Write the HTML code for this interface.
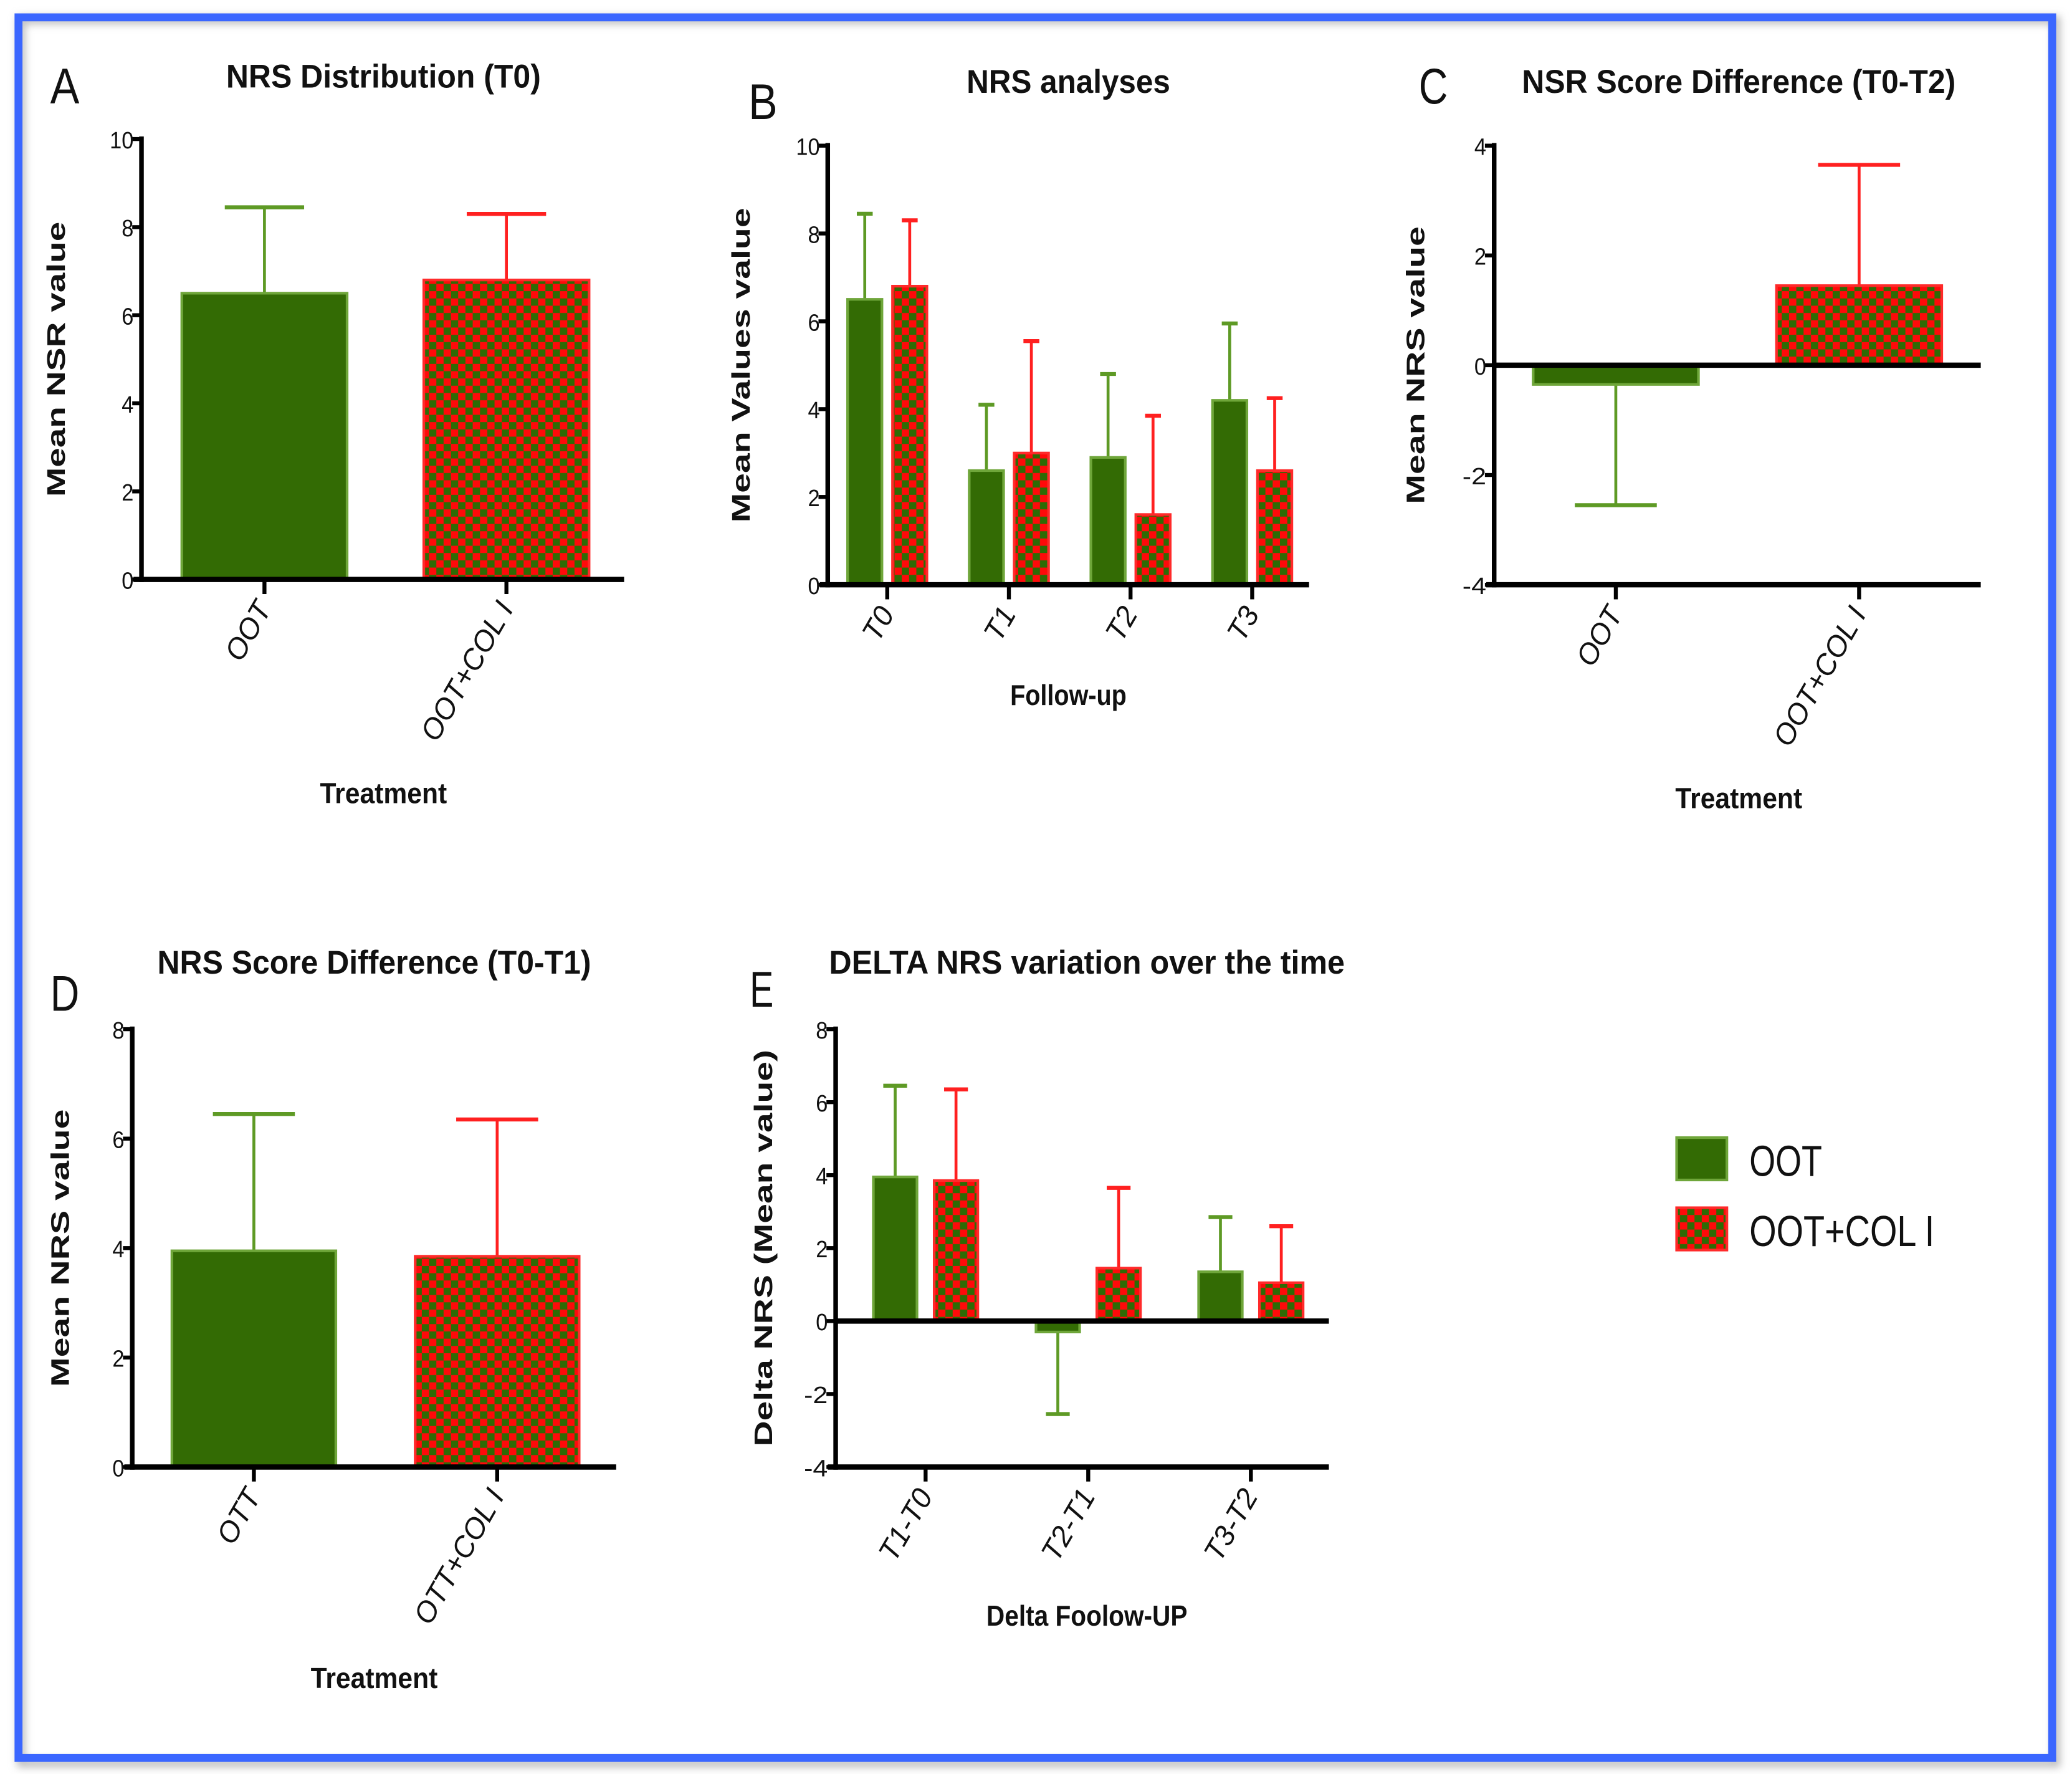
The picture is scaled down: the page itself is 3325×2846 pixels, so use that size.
<!DOCTYPE html>
<html><head><meta charset="utf-8"><style>
html,body{margin:0;padding:0;background:#fff}
svg{display:block}
text{font-family:"Liberation Sans",sans-serif;fill:#111}
.ttl{font-weight:bold;font-size:25px}
.ylab{font-weight:bold;font-size:19px}
.tick{font-size:18px}
.cat{font-size:22px;font-style:italic}
.xlab{font-weight:bold;font-size:22px}
.pl{font-size:38px}
</style></head><body>
<svg id="chart" width="3325" height="2846" viewBox="0 0 1567 1341" xmlns="http://www.w3.org/2000/svg">
<defs>
<pattern id="chk" patternUnits="userSpaceOnUse" width="11" height="11">
<rect width="11" height="11" fill="#ff0a0a"/><rect width="5.5" height="5.5" fill="#2e6b05"/><rect x="5.5" y="5.5" width="5.5" height="5.5" fill="#2e6b05"/>
</pattern>
<filter id="sh"><feGaussianBlur stdDeviation="3"/></filter>
</defs>
<rect x="16" y="15" width="1539" height="1318" fill="none" stroke="#bbb" stroke-width="6" filter="url(#sh)"/>
<rect x="14" y="13" width="1538" height="1316" fill="none" stroke="#3a66ff" stroke-width="6"/>
<g id="root"></g>
</svg>
<script>
// Panel A
const catsA = ["OOT", "OOT+COL I"];
const ootA = [6.5];
const colA = [6.8];
const ootErrA = [8.45];
const colErrA = [8.3];
const ticksA = [0, 2, 4, 6, 8, 10];
// Panel B
const catsB = ["T0", "T1", "T2", "T3"];
const ootB = [6.5, 2.6, 2.9, 4.2];
const colB = [6.8, 3.0, 1.6, 2.6];
const ootErrB = [8.45, 4.1, 4.8, 5.95];
const colErrB = [8.3, 5.55, 3.85, 4.25];
const ticksB = [0, 2, 4, 6, 8, 10];
// Panel C
const catsC = ["OOT", "OOT+COL I"];
const ootC = [-0.35];
const colC = [1.45];
const ootErrC = [-2.55];
const colErrC = [3.65];
const ticksC = [-4, -2, 0, 2, 4];
// Panel D
const catsD = ["OTT", "OTT+COL I"];
const ootD = [3.95];
const colD = [3.85];
const ootErrD = [6.45];
const colErrD = [6.35];
const ticksD = [0, 2, 4, 6, 8];
// Panel E
const catsE = ["T1-T0", "T2-T1", "T3-T2"];
const ootE = [3.95, -0.3, 1.35];
const colE = [3.85, 1.45, 1.05];
const ootErrE = [6.45, -2.55, 2.85];
const colErrE = [6.35, 3.65, 2.6];
const ticksE = [-4, -2, 0, 2, 4, 6, 8];

const NS = "http://www.w3.org/2000/svg";
const root = document.getElementById("root");
function mk(tag, attrs, parent, txt) {
  const e = document.createElementNS(NS, tag);
  for (const k in attrs) e.setAttribute(k, attrs[k]);
  if (txt !== undefined) e.textContent = txt;
  (parent || root).appendChild(e);
  return e;
}

function panel(o) {
  const g = mk("g", {});
  
  
  const ymin = o.ticks[0], ymax = o.ticks[o.ticks.length - 1];
  const Y = v => o.y0 + (ymax - v) / (ymax - ymin) * (o.y1 - o.y0);
  const t = mk("text", {x: o.tx, y: o.ty, "text-anchor": "middle", class: "ttl", textLength: o.tlen, lengthAdjust: "spacingAndGlyphs"}, g, o.title);
  
  
  const l = mk("text", {x: o.lx, y: o.ly, class: "pl", textLength: o.llen || 22, lengthAdjust: "spacingAndGlyphs"}, g, o.letter);
  
  
  const yl = mk("text", {x: 0, y: 0, class: "ylab", "text-anchor": "middle", transform: `translate(${o.ylx},${(o.y0 + o.y1) / 2}) rotate(-90)`, textLength: o.yllen, lengthAdjust: "spacingAndGlyphs"}, g, o.ylabel);
  
  
  const n = o.cats.length;
  for (let i = 0; i < n; i++) {
    const cx = o.cx0 + i * o.step;
    const series = o.grouped
      ? [[o.oot[i], o.ootErr[i], cx - o.off, "oot"], [o.col[i], o.colErr[i], cx + o.off, "col"]]
      : [[i === 0 ? o.oot[0] : o.col[0], i === 0 ? o.ootErr[0] : o.colErr[0], cx, i === 0 ? "oot" : "col"]];
    for (const [v, e, bx, s] of series) {
      const isG = s === "oot";
      const c = isG ? "#5e9a25" : "#ff2020";
      const er = mk("line", {x1: bx, x2: bx, y1: Y(v), y2: Y(e), stroke: c, "stroke-width": 2.2}, g);
      
      
      const cap = mk("line", {x1: bx - o.cap, x2: bx + o.cap, y1: Y(e), y2: Y(e), stroke: c, "stroke-width": 3}, g);
      
      
      const top = Math.min(Y(v), Y(0)), h = Math.abs(Y(v) - Y(0));
      const b = mk("rect", {x: bx - o.bw / 2, y: top, width: o.bw, height: h,
        fill: isG ? "#336b04" : "url(#chk)", stroke: isG ? "#6fa63a" : "#ff2a2a", "stroke-width": 2}, g);
      
      
    }
    mk("line", {x1: cx, x2: cx, y1: o.y1, y2: o.y1 + 11, stroke: "#000", "stroke-width": 3}, g);
    const cl = mk("text", {x: 0, y: 0, class: "cat", "text-anchor": "end", transform: `translate(${cx + 6},${o.y1 + 22}) rotate(-60)`}, g, o.cats[i]);
    
    
  }
  mk("line", {x1: o.ax, x2: o.ax, y1: o.y0 - 2, y2: o.y1 + 2, stroke: "#000", "stroke-width": 3.5}, g);
  mk("line", {x1: o.ax - 6, x2: o.xend, y1: o.y1, y2: o.y1, stroke: "#000", "stroke-width": 4}, g);
  if (ymin < 0) mk("line", {x1: o.ax, x2: o.xend, y1: Y(0), y2: Y(0), stroke: "#000", "stroke-width": 4}, g);
  for (const tv of o.ticks) {
    mk("line", {x1: o.ax - 7, x2: o.ax, y1: Y(tv), y2: Y(tv), stroke: "#000", "stroke-width": 3}, g);
    const tl = mk("text", {x: o.ax - 6, y: Y(tv) + 7, class: "tick", "text-anchor": "end", textLength: String(tv).length * 9, lengthAdjust: "spacingAndGlyphs"}, g, String(tv));
    
    
  }
  const xl = mk("text", {x: o.tx, y: o.xly, class: "xlab", "text-anchor": "middle", textLength: o.xllen, lengthAdjust: "spacingAndGlyphs"}, g, o.xlabel);
  
  
}

panel({name: "panel-a", title: "NRS Distribution (T0)", tx: 290, ty: 66, tlen: 238, letter: "A", lx: 38, ly: 78,
  ylabel: "Mean NSR value", ylx: 49, yllen: 208, cats: catsA, oot: ootA, col: colA, ootErr: ootErrA, colErr: colErrA,
  ticks: ticksA, y0: 105, y1: 438, ax: 107, xend: 472, cx0: 200, step: 183, bw: 125, cap: 30, grouped: false,
  xlabel: "Treatment", xly: 607, xllen: 96});
panel({name: "panel-b", title: "NRS analyses", tx: 808, ty: 70, tlen: 154, letter: "B", lx: 566, ly: 90,
  ylabel: "Mean Values value", ylx: 567, yllen: 238, cats: catsB, oot: ootB, col: colB, ootErr: ootErrB, colErr: colErrB,
  ticks: ticksB, y0: 110, y1: 442, ax: 626, xend: 990, cx0: 671, step: 92, off: 17, bw: 26, cap: 6, grouped: true,
  xlabel: "Follow-up", xly: 533, xllen: 88});
panel({name: "panel-c", title: "NSR Score Difference (T0-T2)", tx: 1315, ty: 70, tlen: 328, letter: "C", lx: 1073, ly: 78,
  ylabel: "Mean NRS value", ylx: 1077, yllen: 210, cats: catsC, oot: ootC, col: colC, ootErr: ootErrC, colErr: colErrC,
  ticks: ticksC, y0: 110, y1: 442, ax: 1130, xend: 1498, cx0: 1222, step: 184, bw: 125, cap: 31, grouped: false,
  xlabel: "Treatment", xly: 611, xllen: 96});
panel({name: "panel-d", title: "NRS Score Difference (T0-T1)", tx: 283, ty: 736, tlen: 328, letter: "D", lx: 38, ly: 764,
  ylabel: "Mean NRS value", ylx: 52, yllen: 210, cats: catsD, oot: ootD, col: colD, ootErr: ootErrD, colErr: colErrD,
  ticks: ticksD, y0: 778, y1: 1109, ax: 100, xend: 466, cx0: 192, step: 184, bw: 124, cap: 31, grouped: false,
  xlabel: "Treatment", xly: 1276, xllen: 96});
panel({name: "panel-e", title: "DELTA NRS variation over the time", tx: 822, ty: 736, tlen: 390, letter: "E", lx: 567, ly: 761, llen: 18,
  ylabel: "Delta NRS (Mean value)", ylx: 584, yllen: 300, cats: catsE, oot: ootE, col: colE, ootErr: ootErrE, colErr: colErrE,
  ticks: ticksE, y0: 778, y1: 1109, ax: 632, xend: 1005, cx0: 700, step: 123, off: 23, bw: 33, cap: 9, grouped: true,
  xlabel: "Delta Foolow-UP", xly: 1229, xllen: 152});

const lg = mk("g", {});


const s1 = mk("rect", {x: 1268, y: 860, width: 38, height: 32, fill: "#336b04", stroke: "#6fa63a", "stroke-width": 2}, lg);


const t1 = mk("text", {x: 1323, y: 889, "font-size": 33, textLength: 55, lengthAdjust: "spacingAndGlyphs"}, lg, "OOT");


const s2 = mk("rect", {x: 1268, y: 913, width: 38, height: 32, fill: "url(#chk)", stroke: "#ff2a2a", "stroke-width": 2}, lg);


const t2 = mk("text", {x: 1323, y: 942, "font-size": 33, textLength: 140, lengthAdjust: "spacingAndGlyphs"}, lg, "OOT+COL I");


</script>
</body></html>
